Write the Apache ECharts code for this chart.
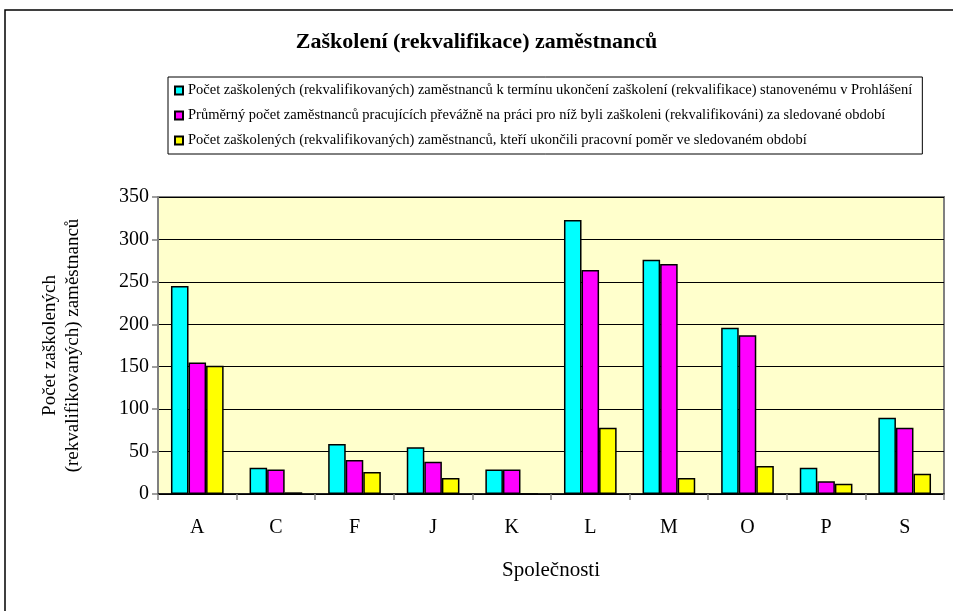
<!DOCTYPE html>
<html><head><meta charset="utf-8">
<script src="https://cdn.jsdelivr.net/npm/echarts@6/dist/echarts.min.js"></script>
<style>html,body{margin:0;padding:0;background:#fff}#c{width:953px;height:611px}</style>
</head><body><div id="c"></div>
<script>
const categories = ['A','C','F','J','K','L','M','O','P','S'];
const seriesNames = [
  'Počet zaškolených (rekvalifikovaných) zaměstnanců k termínu ukončení zaškolení (rekvalifikace) stanovenému v Prohlášení',
  'Průměrný počet zaměstnanců pracujících převážně na práci pro níž byli zaškoleni (rekvalifikováni) za sledované období',
  'Počet zaškolených (rekvalifikovaných) zaměstnanců, kteří ukončili pracovní poměr ve sledovaném období'
];
const trained = [245, 31, 59, 55, 29, 323, 276, 196, 31, 90];
const avgWorking = [155, 29, 40, 38, 29, 264, 271, 187, 15, 78];
const leftJob = [151, 2, 26, 19, 0, 78, 19, 33, 12, 24];
const colors = ['#00FFFF', '#FF00FF', '#FFFF00'];
const serif = 'Liberation Serif';

const chart = echarts.init(document.getElementById('c'));
const mk = (name, data, color) => ({
  name, type: 'bar', data, barGap: '0%', barCategoryGap: '33%',
  itemStyle: { color, borderColor: '#000', borderWidth: 1.5 }
});
chart.setOption({
  animation: false,
  backgroundColor: '#fff',
  textStyle: { fontFamily: serif },
  graphic: [{ type: 'rect', shape: { x: 5, y: 10, width: 960, height: 620 }, style: { fill: 'none', stroke: '#000', lineWidth: 1.5 }, silent: true }],
  title: { text: 'Zaškolení (rekvalifikace) zaměstnanců', left: 'center', top: 26,
    textStyle: { fontFamily: serif, fontWeight: 'bold', fontSize: 22, color: '#000' } },
  legend: {
    orient: 'vertical', left: 168, top: 77, itemWidth: 8, itemHeight: 8, itemGap: 10,
    padding: [6, 10, 6, 6], borderColor: '#000', borderWidth: 1,
    icon: 'rect',
    textStyle: { fontFamily: serif, fontSize: 14.5, color: '#000' },
    data: seriesNames
  },
  grid: { left: 158, right: 9, top: 197, bottom: 117, show: true, backgroundColor: '#FFFFCC', borderColor: '#808080', borderWidth: 2, containLabel: false },
  xAxis: {
    type: 'category', data: categories,
    name: 'Společnosti', nameLocation: 'middle', nameGap: 66,
    nameTextStyle: { fontFamily: serif, fontSize: 21, color: '#000' },
    axisLine: { lineStyle: { color: '#000', width: 1.5 } },
    axisTick: { show: true, length: 6, lineStyle: { color: '#808080', width: 1.5 } },
    axisLabel: { fontFamily: serif, fontSize: 20, color: '#000', margin: 24 }
  },
  yAxis: {
    type: 'value', min: 0, max: 350, interval: 50,
    name: 'Počet zaškolených\n(rekvalifikovaných) zaměstnanců', nameLocation: 'middle', nameGap: 73,
    nameTextStyle: { fontFamily: serif, fontSize: 19, color: '#000', lineHeight: 23 },
    axisLine: { show: true, lineStyle: { color: '#808080', width: 2 } },
    axisTick: { show: true, length: 6, lineStyle: { color: '#808080', width: 1.5 } },
    axisLabel: { fontFamily: serif, fontSize: 20, color: '#000', margin: 9 },
    splitLine: { lineStyle: { color: '#000', width: 1 } }
  },
  series: [mk(seriesNames[0], trained, colors[0]), mk(seriesNames[1], avgWorking, colors[1]), mk(seriesNames[2], leftJob, colors[2])]
});
</script></body></html>
